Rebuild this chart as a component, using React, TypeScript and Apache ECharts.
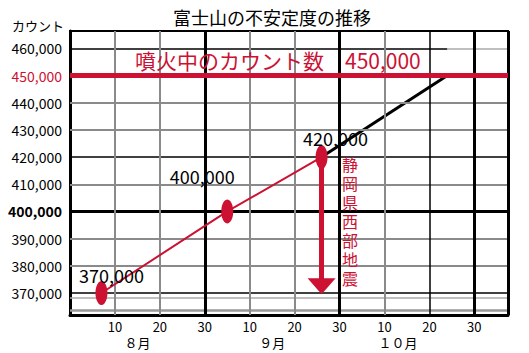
import React, { useEffect, useRef } from 'react';
import * as echarts from 'echarts';

const TITLE = '富士山の不安定度の推移';
const Y_NAME = 'カウント';
// x value = month offset * 30 + day (Aug = 0, Sep = 30, Oct = 60)
const pointDays = [7, 35, 56];
const pointCounts = [370000, 400000, 420000];
const trendDays = [56, 84];
const trendCounts = [420000, 450000];
const eruptionCount = 450000;
const eruptionText = '噴火中のカウント数　450,000';
const quakeDay = 56;
const quakeText = '静岡県西部地震';
const yTickValues = [370000, 380000, 390000, 400000, 410000, 420000, 430000, 440000, 450000, 460000];
const xTickValues = [10, 20, 30, 40, 50, 60, 70, 80, 90];
const monthNames = ['８月', '９月', '１０月'];
const monthCenters = [15, 45, 73];
const X_MAX = 97.5;

const RED = '#cc1133';
const FONT = '"Noto Sans CJK JP", "Noto Sans", sans-serif';

export default function App() {
  const ref = useRef<HTMLDivElement>(null);
  useEffect(() => {
    if (!ref.current) return;
    const chart = echarts.init(ref.current, undefined, { renderer: 'svg' });

    const gray = { color: '#8a8a8a', width: 2, type: 'solid' };
    const thinBlack = { color: '#000', width: 1.5, type: 'solid' };
    const thickBlack = { color: '#000', width: 3, type: 'solid' };

    const hLines: any[] = yTickValues
      .filter((v) => v !== eruptionCount && v !== 460000)
      .map((v) => ({
        yAxis: v,
        lineStyle: v === 400000 ? thickBlack : v === 420000 || v === 370000 ? thinBlack : gray,
      }));
    // top line: black up to the end of the trend, pale grey after it
    hLines.push([
      { coord: [0, 460000], lineStyle: thinBlack },
      { coord: [trendDays[1], 460000] },
    ]);
    hLines.push([
      { coord: [trendDays[1], 460000], lineStyle: { color: '#aaa', width: 1.5, type: 'solid' } },
      { coord: [X_MAX, 460000] },
    ]);
    hLines.push({ yAxis: 368200, lineStyle: { color: '#aaa', width: 1.5, type: 'solid' } });
    hLines.push({ yAxis: 363700, lineStyle: { color: '#999', width: 2.5, type: 'solid' } });
    const vLines: any[] = xTickValues.map((v) => ({
      xAxis: v,
      lineStyle: v % 30 === 0 ? thickBlack : v === 80 ? thinBlack : gray,
    }));
    vLines.push({ xAxis: X_MAX, lineStyle: thickBlack });

    const labelOffsets = [
      [10, -18],
      [-25, -35],
      [14, -19],
    ];

    chart.setOption({
      animation: false,
      backgroundColor: '#fff',
      title: {
        text: TITLE,
        left: 168,
        top: 3,
        textStyle: { fontSize: 18, fontWeight: 'normal', color: '#000', fontFamily: FONT },
      },
      grid: {
        left: 70,
        right: 21,
        top: 31,
        bottom: 38,
        show: true,
        borderColor: '#000',
        borderWidth: 2,
        backgroundColor: 'transparent',
      },
      xAxis: [
        {
          type: 'value',
          min: 0,
          max: X_MAX,
          position: 'bottom',
          axisLine: { show: true, onZero: false, lineStyle: { color: '#000', width: 3 } },
          axisTick: { show: false },
          splitLine: { show: false },
          axisLabel: {
            customValues: xTickValues,
            margin: 5,
            fontSize: 13,
            lineHeight: 13,
            color: '#000',
            fontFamily: FONT,
            formatter: (v: number) => String(v % 30 === 0 ? 30 : v % 30),
          },
        },
        {
          type: 'value',
          min: 0,
          max: X_MAX,
          position: 'bottom',
          offset: 15,
          axisLine: { show: false, onZero: false },
          axisTick: { show: false },
          splitLine: { show: false },
          axisLabel: {
            customValues: monthCenters,
            margin: 6,
            fontSize: 13,
            lineHeight: 13,
            color: '#000',
            fontFamily: FONT,
            formatter: (v: number) => monthNames[monthCenters.indexOf(v)] ?? '',
          },
        },
      ],
      yAxis: {
        type: 'value',
        min: 361900,
        max: 466400,
        axisLine: { show: true, lineStyle: { color: '#000', width: 3 } },
        axisTick: { show: false },
        splitLine: { show: false },
        axisLabel: {
          customValues: yTickValues,
          margin: 8,
          fontSize: 14,
          color: '#000',
          fontFamily: FONT,
          formatter: (v: number) => {
            const s = v.toLocaleString('en-US');
            if (v === eruptionCount) return `{red|${s}}`;
            if (v === 400000) return `{bold|${s}}`;
            return s;
          },
          rich: {
            red: { color: RED, fontSize: 14, fontFamily: FONT },
            bold: { color: '#000', fontSize: 14, fontWeight: 'bold', fontFamily: FONT },
          },
        },
      },
      graphic: [
        {
          type: 'text',
          left: 12,
          top: 19,
          style: { text: Y_NAME, fontSize: 13, fill: '#000', fontFamily: FONT },
        },
        {
          type: 'text',
          left: 135,
          top: 49,
          z: 10,
          style: { text: eruptionText, fontSize: 21, fill: RED, fontFamily: FONT },
        },
        {
          type: 'text',
          left: 342,
          top: 154,
          z: 10,
          style: {
            text: quakeText.split('').join('\n'),
            fontSize: 16,
            lineHeight: 19,
            fill: RED,
            fontFamily: FONT,
          },
        },
      ],
      series: [
        {
          type: 'line',
          data: [],
          z: 1,
          silent: true,
          markLine: {
            silent: true,
            symbol: 'none',
            label: { show: false },
            animation: false,
            data: [...hLines, ...vLines],
          },
        },
        {
          type: 'line',
          z: 3,
          silent: true,
          data: [],
          markLine: {
            silent: true,
            symbol: 'none',
            label: { show: false },
            animation: false,
            data: [{ yAxis: eruptionCount, lineStyle: { color: RED, width: 5, type: 'solid' } }],
          },
        },
        {
          type: 'line',
          z: 4,
          silent: true,
          data: trendDays.map((d, i) => [d, trendCounts[i]]),
          showSymbol: false,
          symbol: 'none',
          lineStyle: { color: '#000', width: 3 },
        },
        {
          type: 'line',
          z: 5,
          silent: true,
          data: [],
          markLine: {
            silent: true,
            symbol: ['none', 'triangle'],
            symbolSize: [28, 16],
            label: { show: false },
            animation: false,
            lineStyle: { color: RED, width: 5, type: 'solid' },
            data: [
              [
                { coord: [quakeDay, pointCounts[2]] },
                { coord: [quakeDay, 372500] },
              ],
            ],
          },
        },
        {
          type: 'line',
          z: 6,
          silent: true,
          data: pointDays.map((d, i) => ({
            value: [d, pointCounts[i]],
            label: {
              show: true,
              position: 'inside',
              offset: labelOffsets[i],
              formatter: pointCounts[i].toLocaleString('en-US'),
              fontSize: 18,
              color: '#000',
              fontFamily: FONT,
            },
          })),
          symbol: 'circle',
          symbolSize: [12, 24],
          showSymbol: true,
          itemStyle: { color: RED },
          lineStyle: { color: RED, width: 2 },
        },
      ],
    });
    return () => chart.dispose();
  }, []);
  return (
    <div
      ref={ref}
      style={{ position: 'absolute', left: 0, top: 0, width: 529, height: 353, background: '#fff' }}
    />
  );
}
